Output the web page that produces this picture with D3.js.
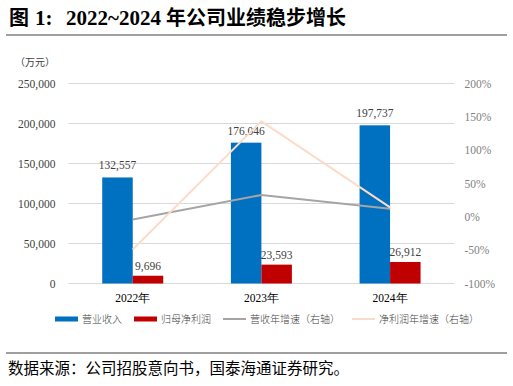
<!DOCTYPE html>
<html lang="zh">
<head>
<meta charset="UTF-8">
<title>2022~2024年公司业绩稳步增长</title>
<script src="https://cdn.jsdelivr.net/npm/d3@7"></script>
<style>
    body { margin: 0; background: #fff; }
    svg text { font-family: "Times New Roman", "Liberation Serif", "DejaVu Serif", serif; }
    svg text.cjk { font-family: "Noto Sans CJK SC", sans-serif; }
</style>
</head>
<body>
<svg id="chart" width="513" height="386"></svg>
<script>
    // data
    let years = ["2022年", "2023年", "2024年"];
    let revenue = [132557, 176046, 197737];
    let netProfit = [9696, 23593, 26912];
    let revenueGrowth = [-4, 32.8, 12.3];
    let profitGrowth = [-49, 143.3, 14.1];
    let leftTicks = [0, 50000, 100000, 150000, 200000, 250000];
    let rightTicks = [-100, -50, 0, 50, 100, 150, 200];

    const serif = "'Times New Roman', 'Liberation Serif', 'Noto Sans CJK SC', serif";
    let svg = d3.select("#chart");
    let plotLeft = 68.4, plotRight = 454.4, plotTop = 83.5, plotBottom = 283.5;

    // title + rules
    let title = svg.append("text").attr("y", 25)
        .attr("font-size", 20).attr("font-weight", "bold").attr("fill", "#000")
        .attr("class", "cjk");
    title.append("tspan").attr("x", 9).text("图");
    title.append("tspan").attr("x", 35).style("font-family", serif).attr("font-size", 21).text("1:");
    title.append("tspan").attr("x", 66).style("font-family", serif).attr("font-size", 21).text("2022~2024");
    title.append("tspan").attr("x", 166).text("年公司业绩稳步增长");
    svg.append("line").attr("x1", 6).attr("x2", 507).attr("y1", 35).attr("y2", 35)
        .attr("stroke", "#7f7f7f").attr("stroke-width", 1.5);
    svg.append("line").attr("x1", 6).attr("x2", 507).attr("y1", 353).attr("y2", 353)
        .attr("stroke", "#7f7f7f").attr("stroke-width", 1.5);
    svg.append("text").attr("x", 8).attr("y", 374)
        .attr("font-size", 15.5).attr("fill", "#000").attr("class", "cjk")
        .text("数据来源：公司招股意向书，国泰海通证券研究。");

    let x = d3.scaleBand().domain(years).range([plotLeft, plotRight]);
    let yL = d3.scaleLinear().domain([0, 250000]).range([plotBottom, plotTop]);
    let yR = d3.scaleLinear().domain([-100, 200]).range([plotBottom, plotTop]);
    let bw = 30.5;

    // gridlines
    svg.append("g").selectAll("line").data(leftTicks).join("line")
        .attr("x1", plotLeft).attr("x2", plotRight)
        .attr("y1", d => yL(d)).attr("y2", d => yL(d))
        .attr("stroke", "#d9d9d9").attr("stroke-width", 1);

    // left axis
    let axL = svg.append("g").attr("transform", `translate(${plotLeft},0)`)
        .call(d3.axisLeft(yL).tickValues(leftTicks).tickSize(0).tickPadding(13)
            .tickFormat(d3.format(",")));
    axL.select(".domain").remove();
    axL.attr("font-family", null);
    axL.selectAll("text").attr("font-size", 11.5).attr("fill", "#404040");
    svg.append("text").attr("x", 15).attr("y", 66).attr("font-size", 10)
        .attr("fill", "#404040").attr("class", "cjk").text("（万元）");

    // right axis
    let axR = svg.append("g").attr("transform", `translate(${plotRight},0)`)
        .call(d3.axisRight(yR).tickValues(rightTicks).tickSize(0).tickPadding(10)
            .tickFormat(d => d + "%"));
    axR.select(".domain").remove();
    axR.attr("font-family", null);
    axR.selectAll("text").attr("font-size", 11.5).attr("fill", "#7f7f7f");

    // x axis labels
    svg.append("g").selectAll("text").data(years).join("text")
        .attr("x", d => x(d) + x.bandwidth() / 2).attr("y", 302)
        .attr("text-anchor", "middle").attr("font-size", 11.5).attr("fill", "#000")
        .text(d => d);

    // bars
    let cx = d => x(d) + x.bandwidth() / 2;
    svg.append("g").selectAll("rect").data(years).join("rect")
        .attr("x", d => cx(d) - bw).attr("width", bw)
        .attr("y", (d, i) => yL(revenue[i])).attr("height", (d, i) => plotBottom - yL(revenue[i]))
        .attr("fill", "#0070c0");
    svg.append("g").selectAll("rect").data(years).join("rect")
        .attr("x", d => cx(d)).attr("width", bw)
        .attr("y", (d, i) => yL(netProfit[i])).attr("height", (d, i) => plotBottom - yL(netProfit[i]))
        .attr("fill", "#c00000");

    // bar labels
    svg.append("g").selectAll("text").data(years).join("text")
        .attr("x", d => cx(d) - bw / 2).attr("y", (d, i) => yL(revenue[i]) - 8)
        .attr("text-anchor", "middle").attr("font-size", 11.5).attr("fill", "#404040")
        .text((d, i) => d3.format(",")(revenue[i]));
    svg.append("g").selectAll("text").data(years).join("text")
        .attr("x", d => cx(d) + bw / 2).attr("y", (d, i) => yL(netProfit[i]) - 6)
        .attr("text-anchor", "middle").attr("font-size", 11.5).attr("fill", "#404040")
        .text((d, i) => d3.format(",")(netProfit[i]));

    // growth lines
    let line = d3.line().x(d => cx(d[0])).y(d => yR(d[1]));
    svg.append("path").datum(years.map((d, i) => [d, revenueGrowth[i]]))
        .attr("d", line).attr("fill", "none").attr("stroke", "#a5a5a5").attr("stroke-width", 2);
    svg.append("path").datum(years.map((d, i) => [d, profitGrowth[i]]))
        .attr("d", line).attr("fill", "none").attr("stroke", "#fbdcc9").attr("stroke-width", 2);

    // legend
    let legend = [
        { name: "营业收入", color: "#0070c0", type: "bar", x: 55 },
        { name: "归母净利润", color: "#c00000", type: "bar", x: 134 },
        { name: "营收年增速（右轴）", color: "#a5a5a5", type: "line", x: 223 },
        { name: "净利润年增速（右轴）", color: "#fbdcc9", type: "line", x: 352 }
    ];
    let lg = svg.append("g").selectAll("g").data(legend).join("g")
        .attr("transform", d => `translate(${d.x},319)`);
    lg.append("rect").attr("x", 0).attr("width", 23)
        .attr("y", d => d.type === "bar" ? -2.5 : -1).attr("height", d => d.type === "bar" ? 5 : 2)
        .attr("fill", d => d.color);
    lg.append("text").attr("x", 27).attr("y", 3.5).attr("font-size", 10)
        .attr("fill", "#404040").attr("class", "cjk").style("font-weight", 300).text(d => d.name);
</script>
</body>
</html>
